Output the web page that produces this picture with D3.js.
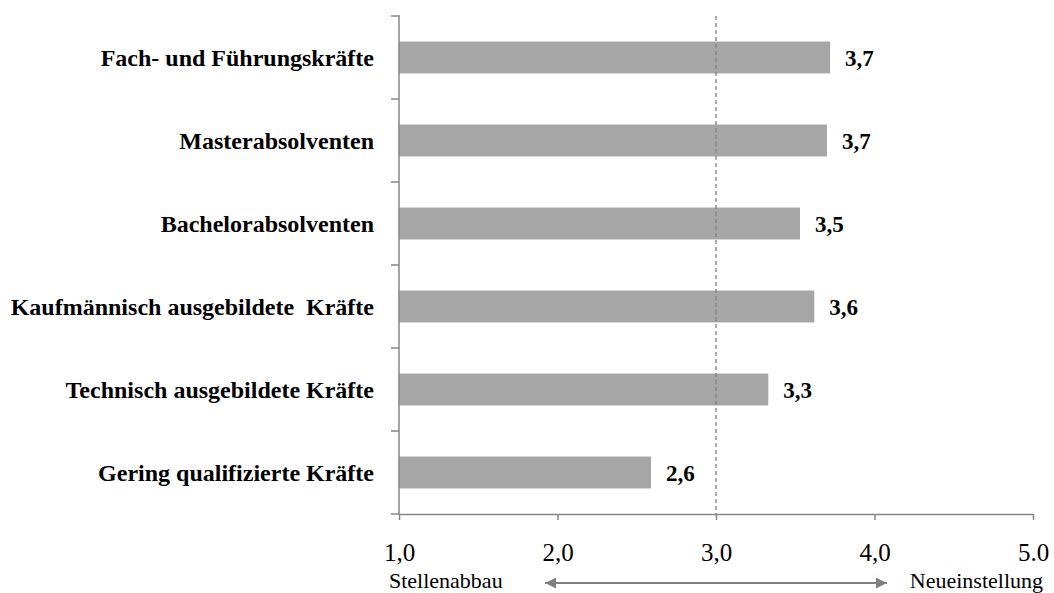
<!DOCTYPE html>
<html>
<head>
<meta charset="utf-8">
<script src="https://cdn.jsdelivr.net/npm/d3@7/dist/d3.min.js"></script>
<style>
  html, body { margin: 0; padding: 0; background: #ffffff; }
  svg { display: block; }
  text { font-family: "Liberation Serif", "Times New Roman", serif; fill: #000; }
</style>
</head>
<body>
<svg id="chart" width="1054" height="593"></svg>
<script>
// Categories, top to bottom
const categories = [
  "Fach- und Führungskräfte",
  "Masterabsolventen",
  "Bachelorabsolventen",
  "Kaufmännisch ausgebildete  Kräfte",
  "Technisch ausgebildete Kräfte",
  "Gering qualifizierte Kräfte"
];
// Mean score per group (1 = job cuts, 5 = new hires)
const values = [3.72, 3.70, 3.53, 3.62, 3.33, 2.59];
// X axis ticks and their labels
const tickValues = [1, 2, 3, 4, 5];
const tickLabels = ["1,0", "2,0", "3,0", "4,0", "5.0"];
const referenceValue = 3;
const endLabels = ["Stellenabbau", "Neueinstellung"];

const svg = d3.select("#chart");
const axisColor = "#868686";

const x = d3.scaleLinear().domain([1, 5]).range([399, 1033]);
const gap = 1.6 / 2.6;
const y = d3.scaleBand().domain(categories).range([16, 514])
  .paddingInner(gap).paddingOuter(gap / 2);

// Bars
svg.append("g").selectAll("rect")
  .data(values)
  .join("rect")
  .attr("x", x(1))
  .attr("y", (d, i) => y(categories[i]))
  .attr("width", d => x(d) - x(1))
  .attr("height", y.bandwidth())
  .attr("fill", "#a6a6a6");

// Value labels
const fmt = d3.format(".1f");
svg.append("g").selectAll("text")
  .data(values)
  .join("text")
  .attr("x", d => x(d) + 15)
  .attr("y", (d, i) => y(categories[i]) + y.bandwidth() / 2)
  .attr("dy", "0.35em")
  .attr("font-size", 23)
  .attr("font-weight", "bold")
  .text(d => fmt(d).replace(".", ","));

// Reference line at 3.0
svg.append("line")
  .attr("x1", x(referenceValue)).attr("x2", x(referenceValue))
  .attr("y1", 16).attr("y2", 514)
  .attr("stroke", "#7f7f7f")
  .attr("stroke-width", 1.3)
  .attr("stroke-dasharray", "4,3");

// Y axis with ticks at category boundaries
const yAxisG = svg.append("g");
yAxisG.append("line")
  .attr("x1", x(1)).attr("x2", x(1))
  .attr("y1", 15).attr("y2", 514)
  .attr("stroke", axisColor).attr("stroke-width", 1.5);
const boundaries = categories.map(c => y(c) - y.step() * gap / 2).concat([514]);
yAxisG.selectAll("line.tick")
  .data(boundaries)
  .join("line")
  .attr("class", "tick")
  .attr("x1", x(1) - 8).attr("x2", x(1))
  .attr("y1", d => d).attr("y2", d => d)
  .attr("stroke", axisColor).attr("stroke-width", 1.5);

// Category labels
svg.append("g").selectAll("text")
  .data(categories)
  .join("text")
  .attr("x", 374)
  .attr("y", d => y(d) + y.bandwidth() / 2)
  .attr("dy", "0.35em")
  .attr("text-anchor", "end")
  .attr("font-size", 24)
  .attr("font-weight", "bold")
  .style("white-space", "pre")
  .text(d => d);

// X axis
const xAxis = d3.axisBottom(x)
  .tickValues(tickValues)
  .tickFormat((d, i) => tickLabels[i])
  .tickSizeInner(6)
  .tickSizeOuter(0)
  .tickPadding(23);
const xAxisG = svg.append("g")
  .attr("transform", "translate(0,514)")
  .call(xAxis);
xAxisG.select(".domain").attr("stroke", axisColor).attr("stroke-width", 1.5);
xAxisG.selectAll(".tick line").attr("stroke", axisColor).attr("stroke-width", 1.5);
xAxisG.selectAll(".tick text")
  .attr("font-family", "Liberation Serif, serif")
  .attr("font-size", 25)
  .attr("fill", "#000");

// Direction labels and double arrow
svg.append("text")
  .attr("x", 389).attr("y", 588)
  .attr("font-size", 22)
  .text(endLabels[0]);
svg.append("text")
  .attr("x", 1043).attr("y", 588)
  .attr("text-anchor", "end")
  .attr("font-size", 22)
  .text(endLabels[1]);

const defs = svg.append("defs");
defs.append("marker")
  .attr("id", "arrowHead")
  .attr("viewBox", "0 0 10 10")
  .attr("refX", 10).attr("refY", 5)
  .attr("markerWidth", 6).attr("markerHeight", 5.5)
  .attr("markerUnits", "strokeWidth")
  .attr("orient", "auto-start-reverse")
  .append("path")
  .attr("d", "M0,0 L10,5 L0,10 Z")
  .attr("fill", "#808080");

svg.append("line")
  .attr("x1", 545).attr("x2", 887)
  .attr("y1", 583).attr("y2", 583)
  .attr("stroke", "#808080")
  .attr("stroke-width", 2)
  .attr("marker-start", "url(#arrowHead)")
  .attr("marker-end", "url(#arrowHead)");
</script>
</body>
</html>
